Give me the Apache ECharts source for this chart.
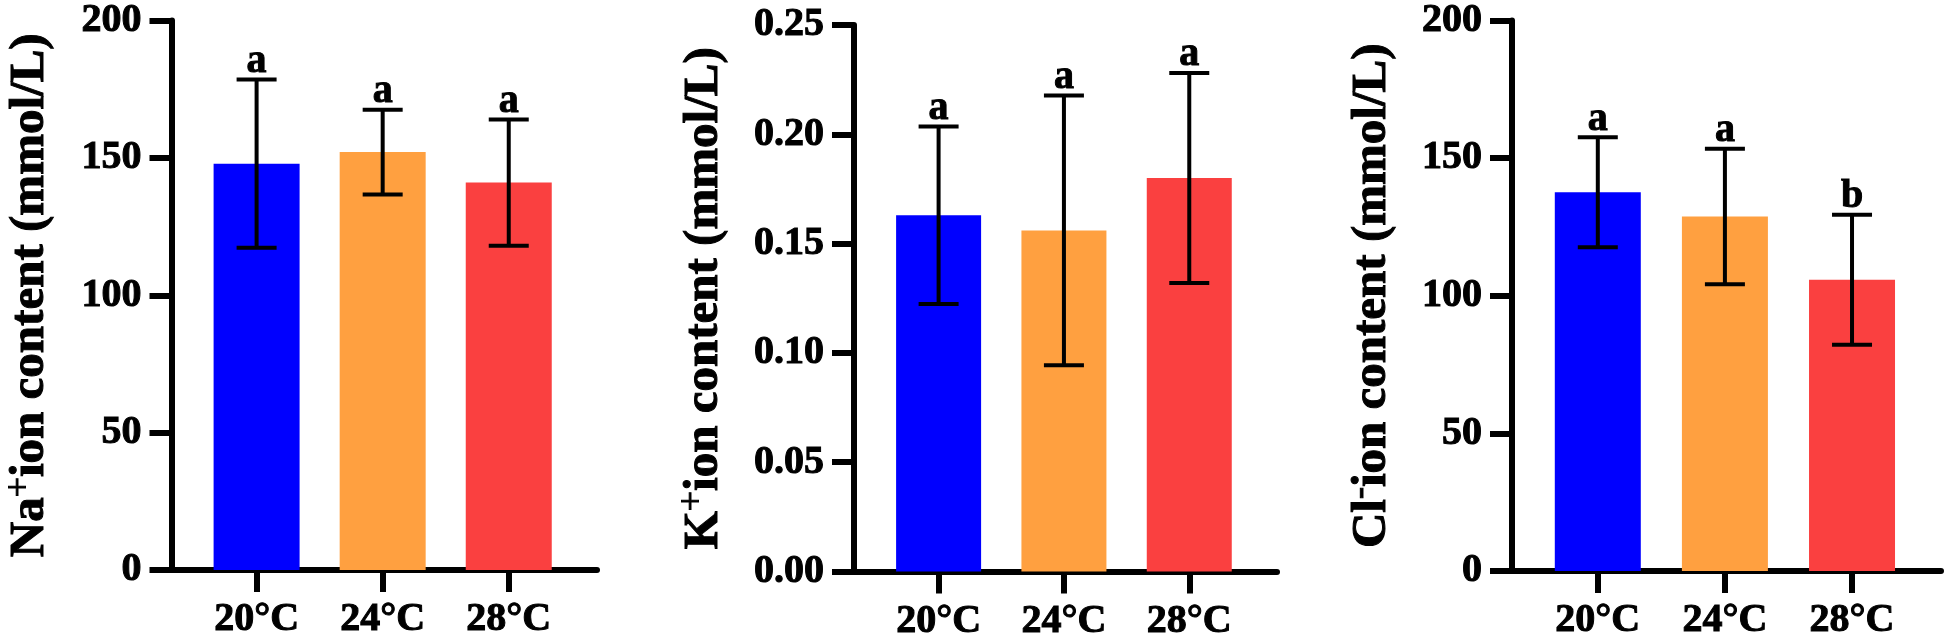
<!DOCTYPE html>
<html><head><meta charset="utf-8">
<script src="https://cdn.jsdelivr.net/npm/echarts@6/dist/echarts.min.js"></script>
<style>html,body{margin:0;padding:0;background:#fff}#c{width:1944px;height:642px}</style>
</head><body><div id="c"></div>
<script>
// ---- data ----
const categories = ['20°C', '24°C', '28°C'];
const barColors = ['#0000FF', '#FFA040', '#FA4040'];

const naMean = [147.9, 152.1, 141.0];
const naErr = [30.6, 15.4, 23.0];
const naLetters = ['a', 'a', 'a'];

const kMean = [0.163, 0.156, 0.180];
const kErr = [0.0406, 0.0617, 0.048];
const kLetters = ['a', 'a', 'a'];

const clMean = [137.6, 128.8, 105.8];
const clErr = [20.0, 24.6, 23.6];
const clLetters = ['a', 'a', 'b'];

const naAxis = { min: 0, max: 200, interval: 50, decimals: 0 };
const kAxis = { min: 0, max: 0.25, interval: 0.05, decimals: 2 };
const clAxis = { min: 0, max: 200, interval: 50, decimals: 0 };

// ---- chart ----
const FONT = '"Liberation Serif", "Times New Roman", serif';
const HEAVY = { textBorderColor: '#000', textBorderWidth: 1 };
const panels = [
  { mean: naMean, err: naErr, letters: naLetters, axis: naAxis, ion: 'Na', sup: '+',
    grid: { left: 167, top: 15, width: 430, height: 555 }, nameGap: 112, barWidth: 86 },
  { mean: kMean, err: kErr, letters: kLetters, axis: kAxis, ion: 'K', sup: '+',
    grid: { left: 854, top: 25, width: 423, height: 547 }, nameGap: 121, barWidth: 85 },
  { mean: clMean, err: clErr, letters: clLetters, axis: clAxis, ion: 'Cl', sup: '-',
    grid: { left: 1512, top: 15, width: 429, height: 556 }, nameGap: 111, barWidth: 86 }
];
const idx = categories.map((c, i) => i);

function makeRender(letters) {
  return function (params, api) {
    const x = api.value(0), m = api.value(1), e = api.value(2);
    const top = api.coord([x, m + e]);
    const bot = api.coord([x, m - e]);
    const hw = 20;
    const ls = { stroke: '#000', lineWidth: 4 };
    return {
      type: 'group',
      children: [
        { type: 'line', shape: { x1: top[0], y1: top[1], x2: bot[0], y2: bot[1] }, style: ls },
        { type: 'line', shape: { x1: top[0] - hw, y1: top[1], x2: top[0] + hw, y2: top[1] }, style: ls },
        { type: 'line', shape: { x1: bot[0] - hw, y1: bot[1], x2: bot[0] + hw, y2: bot[1] }, style: ls },
        { type: 'text', style: { text: letters[params.dataIndex], x: top[0], y: top[1] + 2,
            align: 'center', verticalAlign: 'bottom', font: 'bold 40px ' + FONT, fill: '#000',
            stroke: '#000', lineWidth: 1 } }
      ]
    };
  };
}

const option = { backgroundColor: '#fff', animation: false, grid: [], xAxis: [], yAxis: [], series: [] };
panels.forEach((p, i) => {
  option.grid.push(Object.assign({ containLabel: false }, p.grid));
  option.xAxis.push({
    gridIndex: i, type: 'value', min: -0.675, max: 2.7,
    axisLine: { show: true, onZero: false, lineStyle: { color: '#000', width: 6 } },
    axisTick: { show: true, customValues: idx, length: 22, lineStyle: { color: '#000', width: 6 } },
    axisLabel: Object.assign({ customValues: idx, formatter: v => categories[Math.round(v)], margin: 30,
      fontSize: 40, fontWeight: 'bold', fontFamily: FONT, color: '#000' }, HEAVY),
    splitLine: { show: false }
  });
  option.yAxis.push({
    gridIndex: i, type: 'value', min: p.axis.min, max: p.axis.max, interval: p.axis.interval,
    axisLine: { show: true, onZero: false, lineStyle: { color: '#000', width: 6 } },
    axisTick: { show: true, length: 22, lineStyle: { color: '#000', width: 6 } },
    axisLabel: Object.assign({ margin: 30, fontSize: 40, fontWeight: 'bold', fontFamily: FONT, color: '#000',
      formatter: v => Number(v).toFixed(p.axis.decimals) }, HEAVY),
    splitLine: { show: false },
    name: p.ion + '{sup|' + p.sup + '}ion content (mmol/L)',
    nameLocation: 'middle', nameGap: p.nameGap,
    nameTextStyle: Object.assign({ fontSize: 49, fontWeight: 'bold', fontFamily: FONT, color: '#000',
      rich: { sup: { fontSize: 36, fontWeight: 'normal', fontFamily: FONT, color: '#000',
        verticalAlign: 'top', padding: [0, 0, 22, 0] } } }, HEAVY)
  });
  option.series.push({
    type: 'bar', xAxisIndex: i, yAxisIndex: i, barWidth: p.barWidth,
    data: p.mean.map((v, j) => ({ value: [j, v], itemStyle: { color: barColors[j] } }))
  });
  option.series.push({
    type: 'custom', xAxisIndex: i, yAxisIndex: i, renderItem: makeRender(p.letters),
    encode: { x: 0, y: 1 }, z: 5,
    data: p.mean.map((v, j) => [j, v, p.err[j]])
  });
});

const chart = echarts.init(document.getElementById('c'), null, { renderer: 'canvas' });
chart.setOption(option);
</script>
</body></html>
